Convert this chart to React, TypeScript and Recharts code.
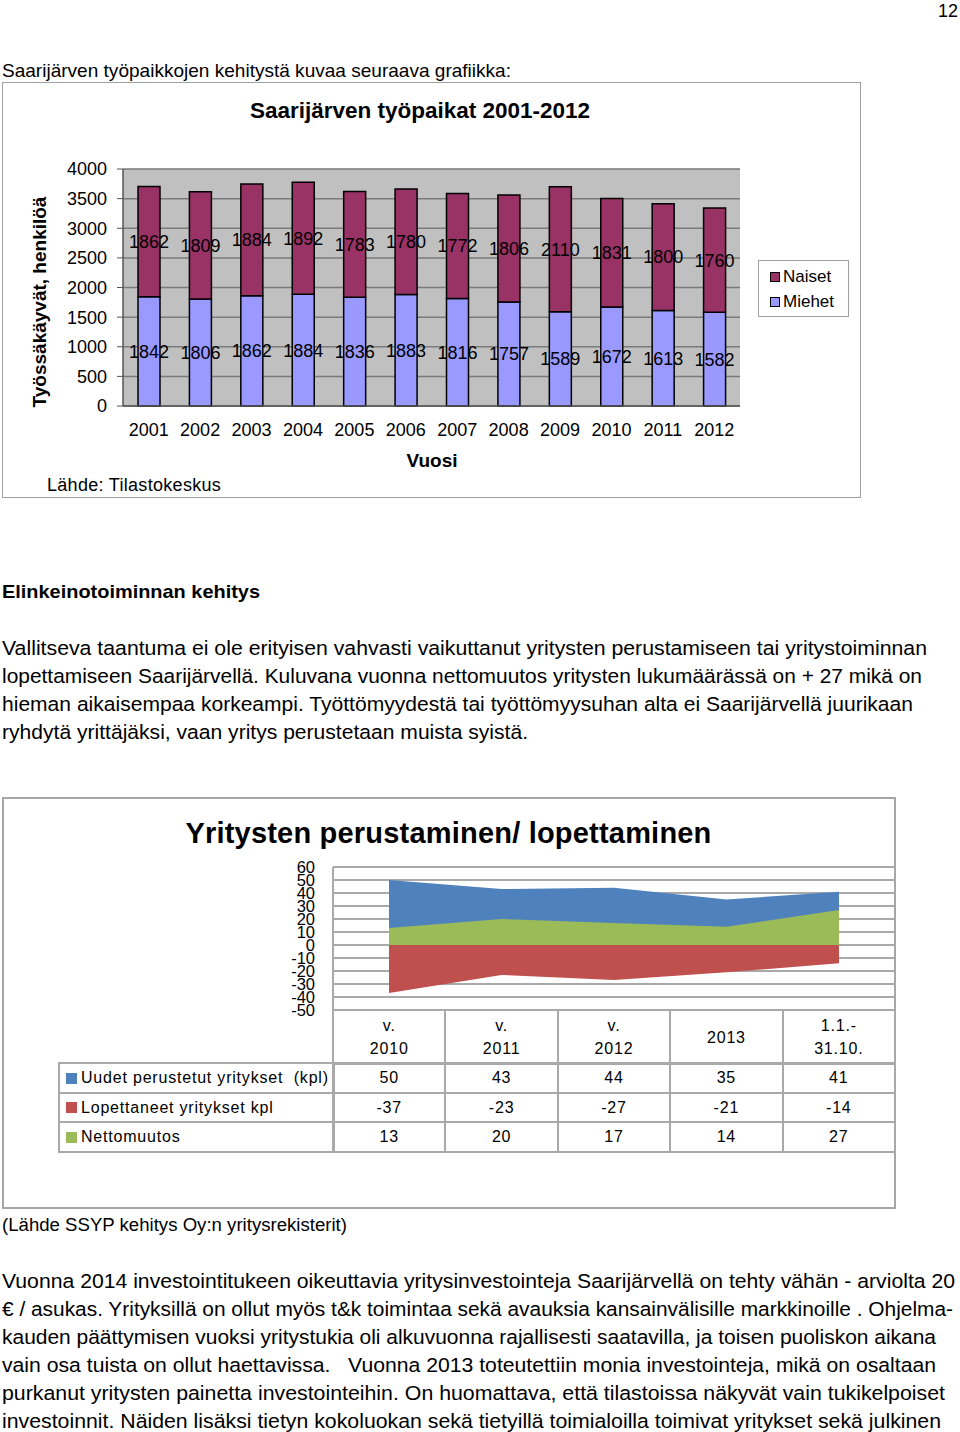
import React from 'react';
import { BarChart, Bar, XAxis, YAxis, CartesianGrid, LabelList, Legend, AreaChart, Area } from 'recharts';

// ---------- Chart 1 data ----------
const years = ['2001', '2002', '2003', '2004', '2005', '2006', '2007', '2008', '2009', '2010', '2011', '2012'];
const miehet = [1842, 1806, 1862, 1884, 1836, 1883, 1816, 1757, 1589, 1672, 1613, 1582];
const naiset = [1862, 1809, 1884, 1892, 1783, 1780, 1772, 1806, 2110, 1831, 1800, 1760];
const yTicks1 = [0, 500, 1000, 1500, 2000, 2500, 3000, 3500, 4000];

// ---------- Chart 2 data ----------
const periods = ['v. 2010', 'v. 2011', 'v. 2012', '2013', '1.1.- 31.10.'];
const periodLines = [['v.', '2010'], ['v.', '2011'], ['v.', '2012'], ['2013'], ['1.1.-', '31.10.']];
const uudet = [50, 43, 44, 35, 41];
const lopettaneet = [-37, -23, -27, -21, -14];
const netto = [13, 20, 17, 14, 27];
const yTicks2 = [60, 50, 40, 30, 20, 10, 0, -10, -20, -30, -40, -50];
const seriesNames = ['Uudet perustetut yritykset  (kpl)', 'Lopettaneet yritykset kpl', 'Nettomuutos'];
const seriesColors = ['#4f81bd', '#c0504d', '#9bbb59'];

// ---------- Page text ----------
const para1 = [
  'Vallitseva taantuma ei ole erityisen vahvasti vaikuttanut yritysten perustamiseen tai yritystoiminnan',
  'lopettamiseen Saarijärvellä. Kuluvana vuonna nettomuutos yritysten lukumäärässä on + 27 mikä on',
  'hieman aikaisempaa korkeampi. Työttömyydestä tai työttömyysuhan alta ei Saarijärvellä juurikaan',
  'ryhdytä yrittäjäksi, vaan yritys perustetaan muista syistä.',
];
const para1W = [925, 920, 911, 526];
const para2 = [
  'Vuonna 2014 investointitukeen oikeuttavia yritysinvestointeja Saarijärvellä on tehty vähän - arviolta 20',
  '€ / asukas. Yrityksillä on ollut myös t&k toimintaa sekä avauksia kansainvälisille markkinoille . Ohjelma-',
  'kauden päättymisen vuoksi yritystukia oli alkuvuonna rajallisesti saatavilla, ja toisen puoliskon aikana',
  'vain osa tuista on ollut haettavissa.   Vuonna 2013 toteutettiin monia investointeja, mikä on osaltaan',
  'purkanut yritysten painetta investointeihin. On huomattava, että tilastoissa näkyvät vain tukikelpoiset',
  'investoinnit. Näiden lisäksi tietyn kokoluokan sekä tietyillä toimialoilla toimivat yritykset sekä julkinen',
];
const para2W = [953, 951, 934, 934, 943, 939];

const barData = years.map((y, i) => ({ year: y, Miehet: miehet[i], Naiset: naiset[i] }));
const areaData = periods.map((p, i) => ({
  period: p,
  [seriesNames[0]]: uudet[i],
  [seriesNames[1]]: lopettaneet[i],
  [seriesNames[2]]: netto[i],
}));
const tableRows = [uudet, lopettaneet, netto];

const NARROW = "'Liberation Sans Narrow', 'Liberation Sans', Arial, sans-serif";
const SANS = "'Liberation Sans', Arial, sans-serif";

function TextLine(props: { x: number; y: number; w?: number; size: number; bold?: boolean; family?: string; children: string }) {
  const { x, y, w, size, bold, family, children } = props;
  return (
    <svg style={{ position: 'absolute', left: 0, top: y - 20, overflow: 'visible' }} width={960} height={40}>
      <text
        x={x}
        y={20}
        dominantBaseline="central"
        {...(w ? { textLength: w, lengthAdjust: 'spacingAndGlyphs' } : {})}
        fontSize={size}
        fontWeight={bold ? 'bold' : 'normal'}
        fontFamily={family || NARROW}
        fill="#000"
        style={{ whiteSpace: 'pre' }}
      >
        {children}
      </text>
    </svg>
  );
}

const renderLegend = (props: any) => {
  const items = [...(props.payload || [])].reverse();
  return (
    <div
      style={{
        width: 91,
        height: 57,
        border: '1px solid #a0a0a0',
        background: '#fff',
        boxSizing: 'border-box',
        padding: '3px 0 0 11px',
        fontFamily: SANS,
        fontSize: 17,
        color: '#000',
      }}
    >
      {items.map((it: any) => (
        <div key={it.value} style={{ display: 'flex', alignItems: 'center', height: 25 }}>
          <span
            style={{
              display: 'inline-block',
              width: 8,
              height: 8,
              background: it.color,
              border: '1.5px solid #000',
              marginRight: 3,
            }}
          />
          {it.value}
        </div>
      ))}
    </div>
  );
};

const colX = (i: number) => 333 + i * 112.4;
const rowY = [1063, 1093, 1122, 1152];
const cellBorder = '2px solid #a9a9a9';

export default function App() {
  return (
    <div style={{ position: 'absolute', left: 0, top: 0, width: 960, height: 1432, background: '#fff', overflow: 'hidden' }}>
      <TextLine x={938} y={10} w={20} size={19}>12</TextLine>
      <TextLine x={2} y={70} w={509} size={19}>Saarijärven työpaikkojen kehitystä kuvaa seuraava grafiikka:</TextLine>

      {/* ---------- Chart 1 ---------- */}
      <div style={{ position: 'absolute', left: 2, top: 82, width: 859, height: 416, border: '1.5px solid #a0a0a0', boxSizing: 'border-box' }} />
      <div style={{ position: 'absolute', left: 2, top: 97, width: 836, textAlign: 'center', fontFamily: SANS, fontWeight: 'bold', fontSize: 22.5, lineHeight: '28px' }}>
        Saarijärven työpaikat 2001-2012
      </div>
      <div style={{ position: 'absolute', left: 2, top: 82 }}>
        <BarChart width={858} height={415} data={barData} margin={{ top: 87, right: 120, bottom: 61, left: 51 }}>
          <CartesianGrid vertical={false} stroke="#7a7a7a" strokeWidth={1.5} fill="#c0c0c0" fillOpacity={1} />
          <XAxis dataKey="year" height={30} tickLine={false} tickMargin={11} axisLine={{ stroke: '#555', strokeWidth: 1.5 }} tick={{ fontSize: 18, fill: '#000', fontFamily: SANS }} interval={0} />
          <YAxis width={70} domain={[0, 4000]} ticks={yTicks1} interval={0} tickSize={6} tickMargin={10} axisLine={{ stroke: '#555', strokeWidth: 1.5 }} tickLine={{ stroke: '#555' }} tick={{ fontSize: 18, fill: '#000', fontFamily: SANS }} />
          <Legend layout="vertical" align="center" verticalAlign="middle" content={renderLegend} wrapperStyle={{ left: 756, top: 178, width: 91, height: 57 }} />
          <Bar dataKey="Miehet" stackId="a" fill="#9999ff" stroke="#000" strokeWidth={1.5} barSize={22} isAnimationActive={false}>
            <LabelList dataKey="Miehet" position="center" fill="#000" fontSize={18} fontFamily={SANS} />
          </Bar>
          <Bar dataKey="Naiset" stackId="a" fill="#993366" stroke="#000" strokeWidth={1.5} barSize={22} isAnimationActive={false}>
            <LabelList dataKey="Naiset" position="center" fill="#000" fontSize={18} fontFamily={SANS} />
          </Bar>
        </BarChart>
      </div>
      <div style={{ position: 'absolute', left: 40, top: 302, width: 0, height: 0 }}>
        <div style={{ position: 'absolute', left: -120, top: -12, width: 240, textAlign: 'center', transform: 'rotate(-90deg)', fontFamily: SANS, fontWeight: 'bold', fontSize: 19, lineHeight: '24px', whiteSpace: 'nowrap' }}>
          Työssäkäyvät, henkilöä
        </div>
      </div>
      <div style={{ position: 'absolute', left: 332, top: 449, width: 200, textAlign: 'center', fontFamily: SANS, fontWeight: 'bold', fontSize: 19, lineHeight: '24px' }}>Vuosi</div>
      <div style={{ position: 'absolute', left: 47, top: 474, fontFamily: SANS, fontSize: 18, lineHeight: '22px', letterSpacing: 0.3 }}>Lähde: Tilastokeskus</div>

      {/* ---------- Section text ---------- */}
      <TextLine x={2} y={591} w={258} size={19} bold>Elinkeinotoiminnan kehitys</TextLine>
      {para1.map((t, i) => (
        <TextLine key={i} x={2} y={647 + i * 28} w={para1W[i]} size={20.5}>{t}</TextLine>
      ))}

      {/* ---------- Chart 2 ---------- */}
      <div style={{ position: 'absolute', left: 2, top: 797, width: 894, height: 412, border: '2px solid #a6a6a6', boxSizing: 'border-box' }} />
      <div style={{ position: 'absolute', left: 2, top: 815, width: 893, textAlign: 'center', fontFamily: SANS, fontWeight: 'bold', fontSize: 29, lineHeight: '36px', letterSpacing: 0.2 }}>
        Yritysten perustaminen/ lopettaminen
      </div>
      <div style={{ position: 'absolute', left: 2, top: 797 }}>
        <AreaChart width={893} height={411} data={areaData} margin={{ top: 70, right: 0, bottom: 198, left: 271 }}>
          <CartesianGrid vertical={false} stroke="#a9a9a9" strokeWidth={2} />
          <XAxis dataKey="period" hide padding={{ left: 56, right: 56 }} />
          <YAxis width={60} domain={[-50, 60]} ticks={yTicks2} interval={0} tickLine={false} tickSize={0} tickMargin={18} axisLine={{ stroke: '#a9a9a9', strokeWidth: 2 }} tick={{ fontSize: 16.5, fill: '#000', fontFamily: SANS }} />
          <Area type="linear" dataKey={seriesNames[0]} baseValue={0} stroke="none" fill={seriesColors[0]} fillOpacity={1} isAnimationActive={false} />
          <Area type="linear" dataKey={seriesNames[1]} baseValue={0} stroke="none" fill={seriesColors[1]} fillOpacity={1} isAnimationActive={false} />
          <Area type="linear" dataKey={seriesNames[2]} baseValue={0} stroke="none" fill={seriesColors[2]} fillOpacity={1} isAnimationActive={false} />
        </AreaChart>
      </div>

      {/* data table */}
      {periodLines.map((lines, i) => (
        <div
          key={'h' + i}
          style={{
            position: 'absolute',
            left: colX(i) - 1,
            top: 1009,
            width: 114.4,
            height: 56,
            border: cellBorder,
            boxSizing: 'border-box',
            display: 'flex',
            flexDirection: 'column',
            justifyContent: 'center',
            alignItems: 'center',
            fontFamily: SANS,
            fontSize: 16,
            letterSpacing: 0.8,
            lineHeight: '23px',
          }}
        >
          {lines.map((l) => (
            <div key={l}>{l}</div>
          ))}
        </div>
      ))}
      {seriesNames.map((name, r) => (
        <React.Fragment key={name}>
          <div
            style={{
              position: 'absolute',
              left: 58,
              top: rowY[r] - 1,
              width: 277,
              height: rowY[r + 1] - rowY[r] + 2,
              border: cellBorder,
              boxSizing: 'border-box',
              display: 'flex',
              alignItems: 'center',
              paddingLeft: 6,
              fontFamily: SANS,
              fontSize: 16,
              letterSpacing: 0.8,
              whiteSpace: 'pre',
            }}
          >
            <span style={{ display: 'inline-block', width: 11, height: 11, background: seriesColors[r], marginRight: 4 }} />
            {name}
          </div>
          {tableRows[r].map((v, i) => (
            <div
              key={i}
              style={{
                position: 'absolute',
                left: colX(i) - 1,
                top: rowY[r] - 1,
                width: 114.4,
                height: rowY[r + 1] - rowY[r] + 2,
                border: cellBorder,
                boxSizing: 'border-box',
                display: 'flex',
                alignItems: 'center',
                justifyContent: 'center',
                fontFamily: SANS,
                fontSize: 16,
                letterSpacing: 0.8,
              }}
            >
              {v}
            </div>
          ))}
        </React.Fragment>
      ))}

      <TextLine x={2} y={1225} w={345} size={18} family={SANS}>(Lähde SSYP kehitys Oy:n yritysrekisterit)</TextLine>
      {para2.map((t, i) => (
        <TextLine key={i} x={2} y={1280 + i * 28} w={para2W[i]} size={20.5}>{t}</TextLine>
      ))}
    </div>
  );
}
